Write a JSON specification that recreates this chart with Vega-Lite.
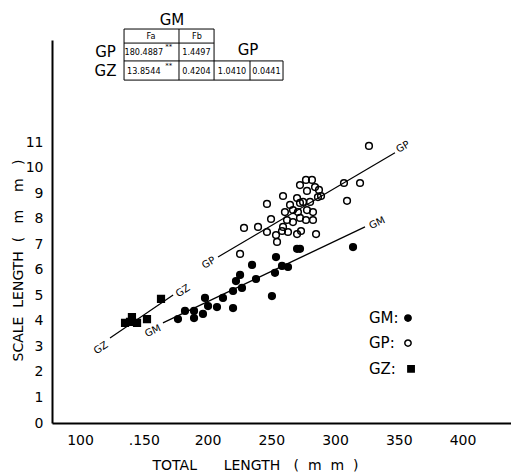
{
  "$schema": "https://vega.github.io/schema/vega-lite/v6.json",
  "width": 459,
  "height": 383,
  "autosize": {"type": "none"},
  "padding": {"left": 52, "top": 40, "right": 0, "bottom": 50},
  "background": "white",
  "config": {"view": {"stroke": null}, "font": "DejaVu Sans", "text": {"font": "DejaVu Sans", "color": "black"}},
  "datasets": {
    "points": [
      {"group": "GM", "mm": 176.8, "sl": 4.07}, {"group": "GM", "mm": 182.3, "sl": 4.39}, {"group": "GM", "mm": 189.4, "sl": 4.39},
      {"group": "GM", "mm": 189.4, "sl": 4.11}, {"group": "GM", "mm": 198.0, "sl": 4.90}, {"group": "GM", "mm": 196.4, "sl": 4.27},
      {"group": "GM", "mm": 200.4, "sl": 4.58}, {"group": "GM", "mm": 207.4, "sl": 4.54}, {"group": "GM", "mm": 212.1, "sl": 4.90},
      {"group": "GM", "mm": 220.0, "sl": 4.50}, {"group": "GM", "mm": 220.0, "sl": 5.17}, {"group": "GM", "mm": 222.3, "sl": 5.56},
      {"group": "GM", "mm": 225.5, "sl": 5.80}, {"group": "GM", "mm": 227.0, "sl": 5.29}, {"group": "GM", "mm": 234.9, "sl": 6.19},
      {"group": "GM", "mm": 238.0, "sl": 5.64}, {"group": "GM", "mm": 250.5, "sl": 4.97}, {"group": "GM", "mm": 253.7, "sl": 6.50},
      {"group": "GM", "mm": 252.9, "sl": 5.88}, {"group": "GM", "mm": 258.4, "sl": 6.15}, {"group": "GM", "mm": 263.1, "sl": 6.11},
      {"group": "GM", "mm": 270.2, "sl": 6.82}, {"group": "GM", "mm": 272.5, "sl": 6.82}, {"group": "GM", "mm": 314.1, "sl": 6.89},
      {"group": "GP", "mm": 225.5, "sl": 6.62}, {"group": "GP", "mm": 228.6, "sl": 7.64}, {"group": "GP", "mm": 239.6, "sl": 7.68},
      {"group": "GP", "mm": 246.6, "sl": 8.58}, {"group": "GP", "mm": 249.8, "sl": 7.99}, {"group": "GP", "mm": 246.6, "sl": 7.48},
      {"group": "GP", "mm": 253.7, "sl": 7.36}, {"group": "GP", "mm": 254.5, "sl": 7.09}, {"group": "GP", "mm": 259.2, "sl": 8.89},
      {"group": "GP", "mm": 258.4, "sl": 7.52}, {"group": "GP", "mm": 260.7, "sl": 8.26}, {"group": "GP", "mm": 263.1, "sl": 7.48},
      {"group": "GP", "mm": 264.7, "sl": 8.54}, {"group": "GP", "mm": 267.0, "sl": 7.87}, {"group": "GP", "mm": 270.2, "sl": 7.40},
      {"group": "GP", "mm": 270.2, "sl": 8.81}, {"group": "GP", "mm": 270.9, "sl": 8.26}, {"group": "GP", "mm": 272.5, "sl": 8.62},
      {"group": "GP", "mm": 272.5, "sl": 8.03}, {"group": "GP", "mm": 273.3, "sl": 7.52}, {"group": "GP", "mm": 272.5, "sl": 9.32},
      {"group": "GP", "mm": 274.9, "sl": 8.66}, {"group": "GP", "mm": 277.2, "sl": 9.52}, {"group": "GP", "mm": 278.0, "sl": 9.09},
      {"group": "GP", "mm": 278.0, "sl": 8.34}, {"group": "GP", "mm": 277.2, "sl": 7.95}, {"group": "GP", "mm": 281.9, "sl": 9.52},
      {"group": "GP", "mm": 280.4, "sl": 8.66}, {"group": "GP", "mm": 282.7, "sl": 8.26}, {"group": "GP", "mm": 282.7, "sl": 7.95},
      {"group": "GP", "mm": 285.1, "sl": 7.40}, {"group": "GP", "mm": 284.3, "sl": 9.24}, {"group": "GP", "mm": 287.4, "sl": 9.13},
      {"group": "GP", "mm": 286.6, "sl": 8.85}, {"group": "GP", "mm": 289.0, "sl": 8.89}, {"group": "GP", "mm": 307.0, "sl": 9.40},
      {"group": "GP", "mm": 319.6, "sl": 9.40}, {"group": "GP", "mm": 309.4, "sl": 8.70}, {"group": "GP", "mm": 326.6, "sl": 10.85},
      {"group": "GP", "mm": 267.0, "sl": 8.34}, {"group": "GP", "mm": 262.3, "sl": 7.95}, {"group": "GP", "mm": 259.2, "sl": 7.68},
      {"group": "GZ", "mm": 163.5, "sl": 4.86}, {"group": "GZ", "mm": 140.7, "sl": 4.15}, {"group": "GZ", "mm": 135.3, "sl": 3.92},
      {"group": "GZ", "mm": 139.2, "sl": 3.96}, {"group": "GZ", "mm": 144.7, "sl": 3.92}, {"group": "GZ", "mm": 152.5, "sl": 4.07}
    ],
    "lines": [
      {"group": "GP", "mm": 208.2, "sl": 6.50}, {"group": "GP", "mm": 347.0, "sl": 10.58},
      {"group": "GM", "mm": 165.0, "sl": 3.92}, {"group": "GM", "mm": 323.5, "sl": 7.68},
      {"group": "GZ", "mm": 123.5, "sl": 3.33}, {"group": "GZ", "mm": 173.0, "sl": 5.01}
    ],
    "lineLabels": [
      {"group": "GP", "mm": 201.0, "sl": 6.27}, {"group": "GP", "mm": 353.3, "sl": 10.81},
      {"group": "GM", "mm": 157.2, "sl": 3.60}, {"group": "GM", "mm": 333.0, "sl": 7.83},
      {"group": "GZ", "mm": 116.4, "sl": 2.94}, {"group": "GZ", "mm": 180.7, "sl": 5.17}
    ],
    "legendText": [
      {"text": "GM:", "mm": 326.6, "sl": 4.11},
      {"text": "GP:", "mm": 326.6, "sl": 3.13},
      {"text": "GZ:", "mm": 326.6, "sl": 2.12}
    ],
    "legendSymbols": [
      {"group": "GM", "mm": 357.2, "sl": 4.11},
      {"group": "GP", "mm": 357.2, "sl": 3.13},
      {"group": "GZ", "mm": 359.6, "sl": 2.12}
    ],
    "tableRules": [
      {"mm": 134.5, "sl": 15.43, "mm2": 205.1, "sl2": 15.43},
      {"mm": 134.5, "sl": 14.88, "mm2": 205.1, "sl2": 14.88},
      {"mm": 134.5, "sl": 14.18, "mm2": 259.2, "sl2": 14.18},
      {"mm": 134.5, "sl": 13.43, "mm2": 259.2, "sl2": 13.43},
      {"mm": 134.5, "sl": 13.43, "mm2": 134.5, "sl2": 15.43},
      {"mm": 177.6, "sl": 13.43, "mm2": 177.6, "sl2": 15.43},
      {"mm": 205.1, "sl": 13.43, "mm2": 205.1, "sl2": 15.43},
      {"mm": 233.3, "sl": 13.43, "mm2": 233.3, "sl2": 14.18},
      {"mm": 259.2, "sl": 13.43, "mm2": 259.2, "sl2": 14.18}
    ],
    "tableText": [
      {"role": "head", "text": "GM", "mm": 172.1, "sl": 15.79},
      {"role": "head", "text": "GP", "mm": 231.7, "sl": 14.61},
      {"role": "head", "text": "GP", "mm": 120.0, "sl": 14.53},
      {"role": "head", "text": "GZ", "mm": 120.0, "sl": 13.79},
      {"role": "cell", "text": "Fa", "mm": 155.6, "sl": 15.16},
      {"role": "cell", "text": "Fb", "mm": 191.7, "sl": 15.16},
      {"role": "cell", "text": "180.4887", "mm": 150.0, "sl": 14.53},
      {"role": "cell", "text": "1.4497", "mm": 191.3, "sl": 14.53},
      {"role": "cell", "text": "13.8544", "mm": 150.0, "sl": 13.79},
      {"role": "cell", "text": "0.4204", "mm": 191.3, "sl": 13.79},
      {"role": "cell", "text": "1.0410", "mm": 219.2, "sl": 13.79},
      {"role": "cell", "text": "0.0441", "mm": 246.2, "sl": 13.79},
      {"role": "star", "text": "**", "mm": 169.5, "sl": 14.73},
      {"role": "star", "text": "**", "mm": 169.5, "sl": 13.98}
    ]
  },
  "encoding": {
    "x": {
      "field": "mm", "type": "quantitative",
      "scale": {"domain": [78, 438], "nice": false, "zero": false},
      "axis": {
        "values": [100, 150, 200, 250, 300, 350, 400],
        "labelExpr": "datum.value == 150 ? '.150' : datum.label",
        "ticks": false, "grid": false, "domainColor": "black", "domainWidth": 2,
        "labelFontSize": 14, "labelColor": "black", "labelPadding": 10, "labelFlush": false, "labelFont": "DejaVu Sans",
        "title": "TOTAL\u00a0\u00a0\u00a0\u00a0\u00a0\u00a0LENGTH\u00a0\u00a0\u00a0(\u00a0\u00a0m\u00a0\u00a0m\u00a0\u00a0)",
        "titleFont": "DejaVu Sans", "titleFontSize": 14, "titleFontWeight": "normal", "titleColor": "black",
        "titleX": 203, "titleY": 42, "titleAlign": "center", "titleBaseline": "middle"
      }
    },
    "y": {
      "field": "sl", "type": "quantitative",
      "scale": {"domain": [0, 15], "nice": false, "zero": true},
      "axis": {
        "values": [0, 1, 2, 3, 4, 5, 6, 7, 8, 9, 10, 11],
        "ticks": false, "grid": false, "domainColor": "black", "domainWidth": 2,
        "labelFontSize": 14, "labelColor": "black", "labelPadding": 9, "labelFlush": false, "labelFont": "DejaVu Sans",
        "title": "SCALE\u00a0\u00a0LENGTH\u00a0\u00a0(\u00a0\u00a0\u00a0m\u00a0\u00a0\u00a0\u00a0m\u00a0\u00a0\u00a0)",
        "titleFont": "DejaVu Sans", "titleFontSize": 14, "titleFontWeight": "normal", "titleColor": "black",
        "titleX": -34, "titleY": 220, "titleAngle": -90, "titleAlign": "center", "titleBaseline": "middle"
      }
    }
  },
  "layer": [
    {
      "data": {"name": "points"},
      "mark": {"type": "point", "stroke": "black", "strokeWidth": 1.5, "opacity": 1, "size": 45},
      "encoding": {
        "shape": {"field": "group", "type": "nominal", "scale": {"domain": ["GM", "GP", "GZ"], "range": ["circle", "circle", "square"]}, "legend": null},
        "fill": {"field": "group", "type": "nominal", "scale": {"domain": ["GM", "GP", "GZ"], "range": ["black", "transparent", "black"]}, "legend": null}
      }
    },
    {
      "data": {"name": "legendSymbols"},
      "mark": {"type": "point", "stroke": "black", "strokeWidth": 1.5, "opacity": 1, "size": 40},
      "encoding": {
        "shape": {"field": "group", "type": "nominal", "legend": null},
        "fill": {"field": "group", "type": "nominal", "legend": null}
      }
    },
    {
      "data": {"name": "lines"},
      "mark": {"type": "line", "color": "black", "strokeWidth": 1.2},
      "encoding": {
        "detail": {"field": "group", "type": "nominal"}
      }
    },
    {
      "data": {"name": "lineLabels"},
      "transform": [{"filter": "datum.group == 'GP'"}],
      "mark": {"type": "text", "fontSize": 10, "angle": 330, "align": "center", "baseline": "middle", "color": "black"},
      "encoding": {"text": {"field": "group"}}
    },
    {
      "data": {"name": "lineLabels"},
      "transform": [{"filter": "datum.group == 'GM'"}],
      "mark": {"type": "text", "fontSize": 10, "angle": 335, "align": "center", "baseline": "middle", "color": "black"},
      "encoding": {"text": {"field": "group"}}
    },
    {
      "data": {"name": "lineLabels"},
      "transform": [{"filter": "datum.group == 'GZ'"}],
      "mark": {"type": "text", "fontSize": 10, "angle": 326, "align": "center", "baseline": "middle", "color": "black"},
      "encoding": {"text": {"field": "group"}}
    },
    {
      "data": {"name": "legendText"},
      "mark": {"type": "text", "fontSize": 15, "align": "left", "baseline": "middle", "color": "black"},
      "encoding": {"text": {"field": "text"}}
    },
    {
      "data": {"name": "tableRules"},
      "mark": {"type": "rule", "color": "black", "strokeWidth": 1},
      "encoding": {
        "x2": {"field": "mm2"},
        "y2": {"field": "sl2"}
      }
    },
    {
      "data": {"name": "tableText"},
      "transform": [{"filter": "datum.role == 'head'"}],
      "mark": {"type": "text", "fontSize": 15, "align": "center", "baseline": "middle", "color": "black"},
      "encoding": {"text": {"field": "text"}}
    },
    {
      "data": {"name": "tableText"},
      "transform": [{"filter": "datum.role == 'cell'"}],
      "mark": {"type": "text", "fontSize": 9, "font": "DejaVu Sans Condensed", "align": "center", "baseline": "middle", "color": "black"},
      "encoding": {"text": {"field": "text"}}
    },
    {
      "data": {"name": "tableText"},
      "transform": [{"filter": "datum.role == 'star'"}],
      "mark": {"type": "text", "fontSize": 7, "align": "center", "baseline": "middle", "color": "black"},
      "encoding": {"text": {"field": "text"}}
    }
  ]
}
